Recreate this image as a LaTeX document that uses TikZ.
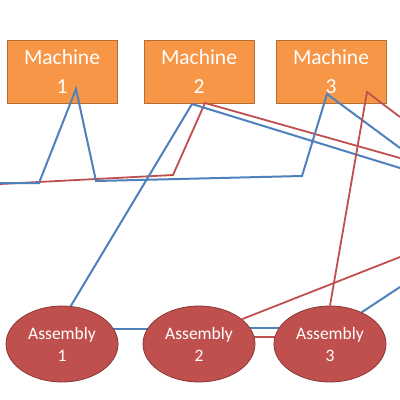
\documentclass[tikz,border=0pt]{standalone}
\usepackage{fontspec}
\setmainfont{Carlito}
\usetikzlibrary{shapes.geometric}
\definecolor{mach}{HTML}{F79646}
\definecolor{machb}{HTML}{B66D31}
\definecolor{asm}{HTML}{C0504D}
\definecolor{asmb}{HTML}{8C3836}
\definecolor{bl}{HTML}{4F81BD}
\definecolor{rd}{HTML}{C0504D}
\pgfdeclarelayer{back}
\pgfdeclarelayer{mid}
\pgfsetlayers{back,mid,main}
\begin{document}
\begin{tikzpicture}[x=1pt,y=-1pt,
  machine/.style={draw=machb, fill=mach, line width=0.8pt, minimum width=110pt, minimum height=63pt,
    text=white, font=\fontsize{21.5}{28}\selectfont, align=center, inner sep=0pt},
  assembly/.style={ellipse, draw=asmb, fill=asm, line width=0.8pt, minimum width=112pt, minimum height=76pt,
    text=white, font=\fontsize{17.5}{22}\selectfont, align=center, inner sep=0pt},
  bline/.style={draw=bl, line width=2pt, line join=miter},
  rline/.style={draw=rd, line width=1.8pt, line join=miter}]
\useasboundingbox (0,0) rectangle (400,400);

\begin{pgfonlayer}{back}
\fill[white] (0,0) rectangle (400,400);
\node[machine] (m1) at (62,71.5) {Machine\\[1pt]1};
\node[machine] (m2) at (199,71.5) {Machine\\[1pt]2};
\node[machine] (m3) at (331,71.5) {Machine\\[1pt]3};
\end{pgfonlayer}

\node[assembly] (a1) at (62,344) {Assembly\\1};
\node[assembly] (a2) at (199,344) {Assembly\\2};
\node[assembly] (a3) at (330,344) {Assembly\\3};

% named points
\coordinate (bL) at (0,183);
\coordinate (b1) at (39,183);
\coordinate (b2) at (76,89);
\coordinate (b3) at (96,181);
\coordinate (b4) at (302,176);
\coordinate (b5) at (327,94);
\coordinate (bR) at (400,148);
\coordinate (c1) at (192,104);
\coordinate (cR) at (400,168);
\coordinate (rL) at (0,184);
\coordinate (r1) at (173,175);
\coordinate (r2) at (205,103);
\coordinate (rR) at (400,158);
\coordinate (s1) at (367,92);
\coordinate (sR) at (400,117);
\coordinate (tR) at (400,257);
\coordinate (uR) at (400,287);

\begin{pgfonlayer}{mid}
\draw[rline] (rL) -- (r1) -- (r2) -- (rR);
\draw[bline] (bL) -- (b1) -- (b2) -- (b3) -- (b4) -- (b5) -- (bR);
\draw[bline] (a1.77) -- (c1) -- (cR);
\draw[rline] (a3.north) -- (s1) -- (sR);
\draw[rline] (a2.30) -- (tR);
\draw[bline] (a3.45) -- (uR);
\draw[bline] ([yshift=15pt]a1.center) -- ([yshift=15pt]a2.center);
\draw[bline] ([yshift=16pt]a2.center) -- ([yshift=16pt]a3.center);
\draw[rline] ([yshift=7pt]a2.center) -- ([yshift=7pt]a3.center);
\end{pgfonlayer}
\end{tikzpicture}
\end{document}
